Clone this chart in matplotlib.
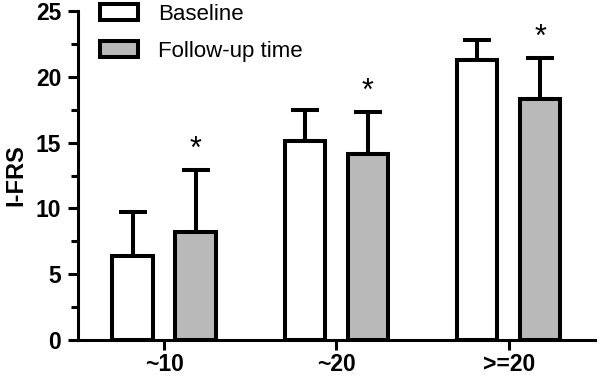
import matplotlib.pyplot as plt
import numpy as np

plt.rcParams['font.family'] = ['Liberation Sans', 'DejaVu Sans']

groups = ["~10", "~20", ">=20"]
baseline = [6.4, 15.1, 21.3]
baseline_err = [3.3, 2.4, 1.5]
followup = [8.2, 14.1, 18.3]
followup_err = [4.7, 3.2, 3.1]
series_names = ["Baseline", "Follow-up time"]

fig = plt.figure(figsize=(6.02, 3.76), dpi=100)
ax = fig.add_axes([0.1296, 0.0957, 0.8584, 0.875])

x = np.arange(len(groups))
w = 0.235
off = 0.183
lw = 2.9

ax.bar(x - off, baseline, w, color='white', edgecolor='black', linewidth=lw,
       label=series_names[0], zorder=3)
ax.bar(x + off, followup, w, color='#b9b9b9', edgecolor='black', linewidth=lw,
       label=series_names[1], zorder=3)

# upper error bars only
ax.errorbar(x - off, baseline, yerr=[np.zeros(3), baseline_err], fmt='none',
            ecolor='black', elinewidth=lw, capsize=10, capthick=lw, zorder=2)
ax.errorbar(x + off, followup, yerr=[np.zeros(3), followup_err], fmt='none',
            ecolor='black', elinewidth=lw, capsize=10, capthick=lw, zorder=2)

for i in range(len(groups)):
    ax.text(x[i] + off, followup[i] + followup_err[i] + 1.55, '*', ha='center',
            va='center', fontsize=22)

ax.set_xlim(-0.5, 2.5)
ax.set_ylim(0, 25)
ax.set_yticks([0, 5, 10, 15, 20, 25])
ax.set_yticks(np.arange(2.5, 25, 5), minor=True)
ax.set_xticks(x)
ax.set_xticklabels(groups)

for s in ['top', 'right']:
    ax.spines[s].set_visible(False)
for s in ['left', 'bottom']:
    ax.spines[s].set_linewidth(2.2)
ax.spines['left'].set_zorder(4)

ax.tick_params(axis='y', which='major', length=7, width=2.2, labelsize=16.5, pad=5)
ax.tick_params(axis='y', which='minor', length=5, width=2.2)
ax.tick_params(axis='x', length=7, width=2.2, labelsize=16.5, pad=2)
for lab in ax.get_xticklabels() + ax.get_yticklabels():
    lab.set_fontweight('bold')

ax.set_ylabel("I-FRS", fontsize=17, fontweight='bold', labelpad=6)

leg = ax.legend(loc='upper left', bbox_to_anchor=(0.0426, 1.021), frameon=False,
                fontsize=16, handlelength=1.7, handleheight=0.72,
                handletextpad=0.9, labelspacing=0.7, borderpad=0,
                borderaxespad=0)

fig.savefig('out.png', dpi=100)
